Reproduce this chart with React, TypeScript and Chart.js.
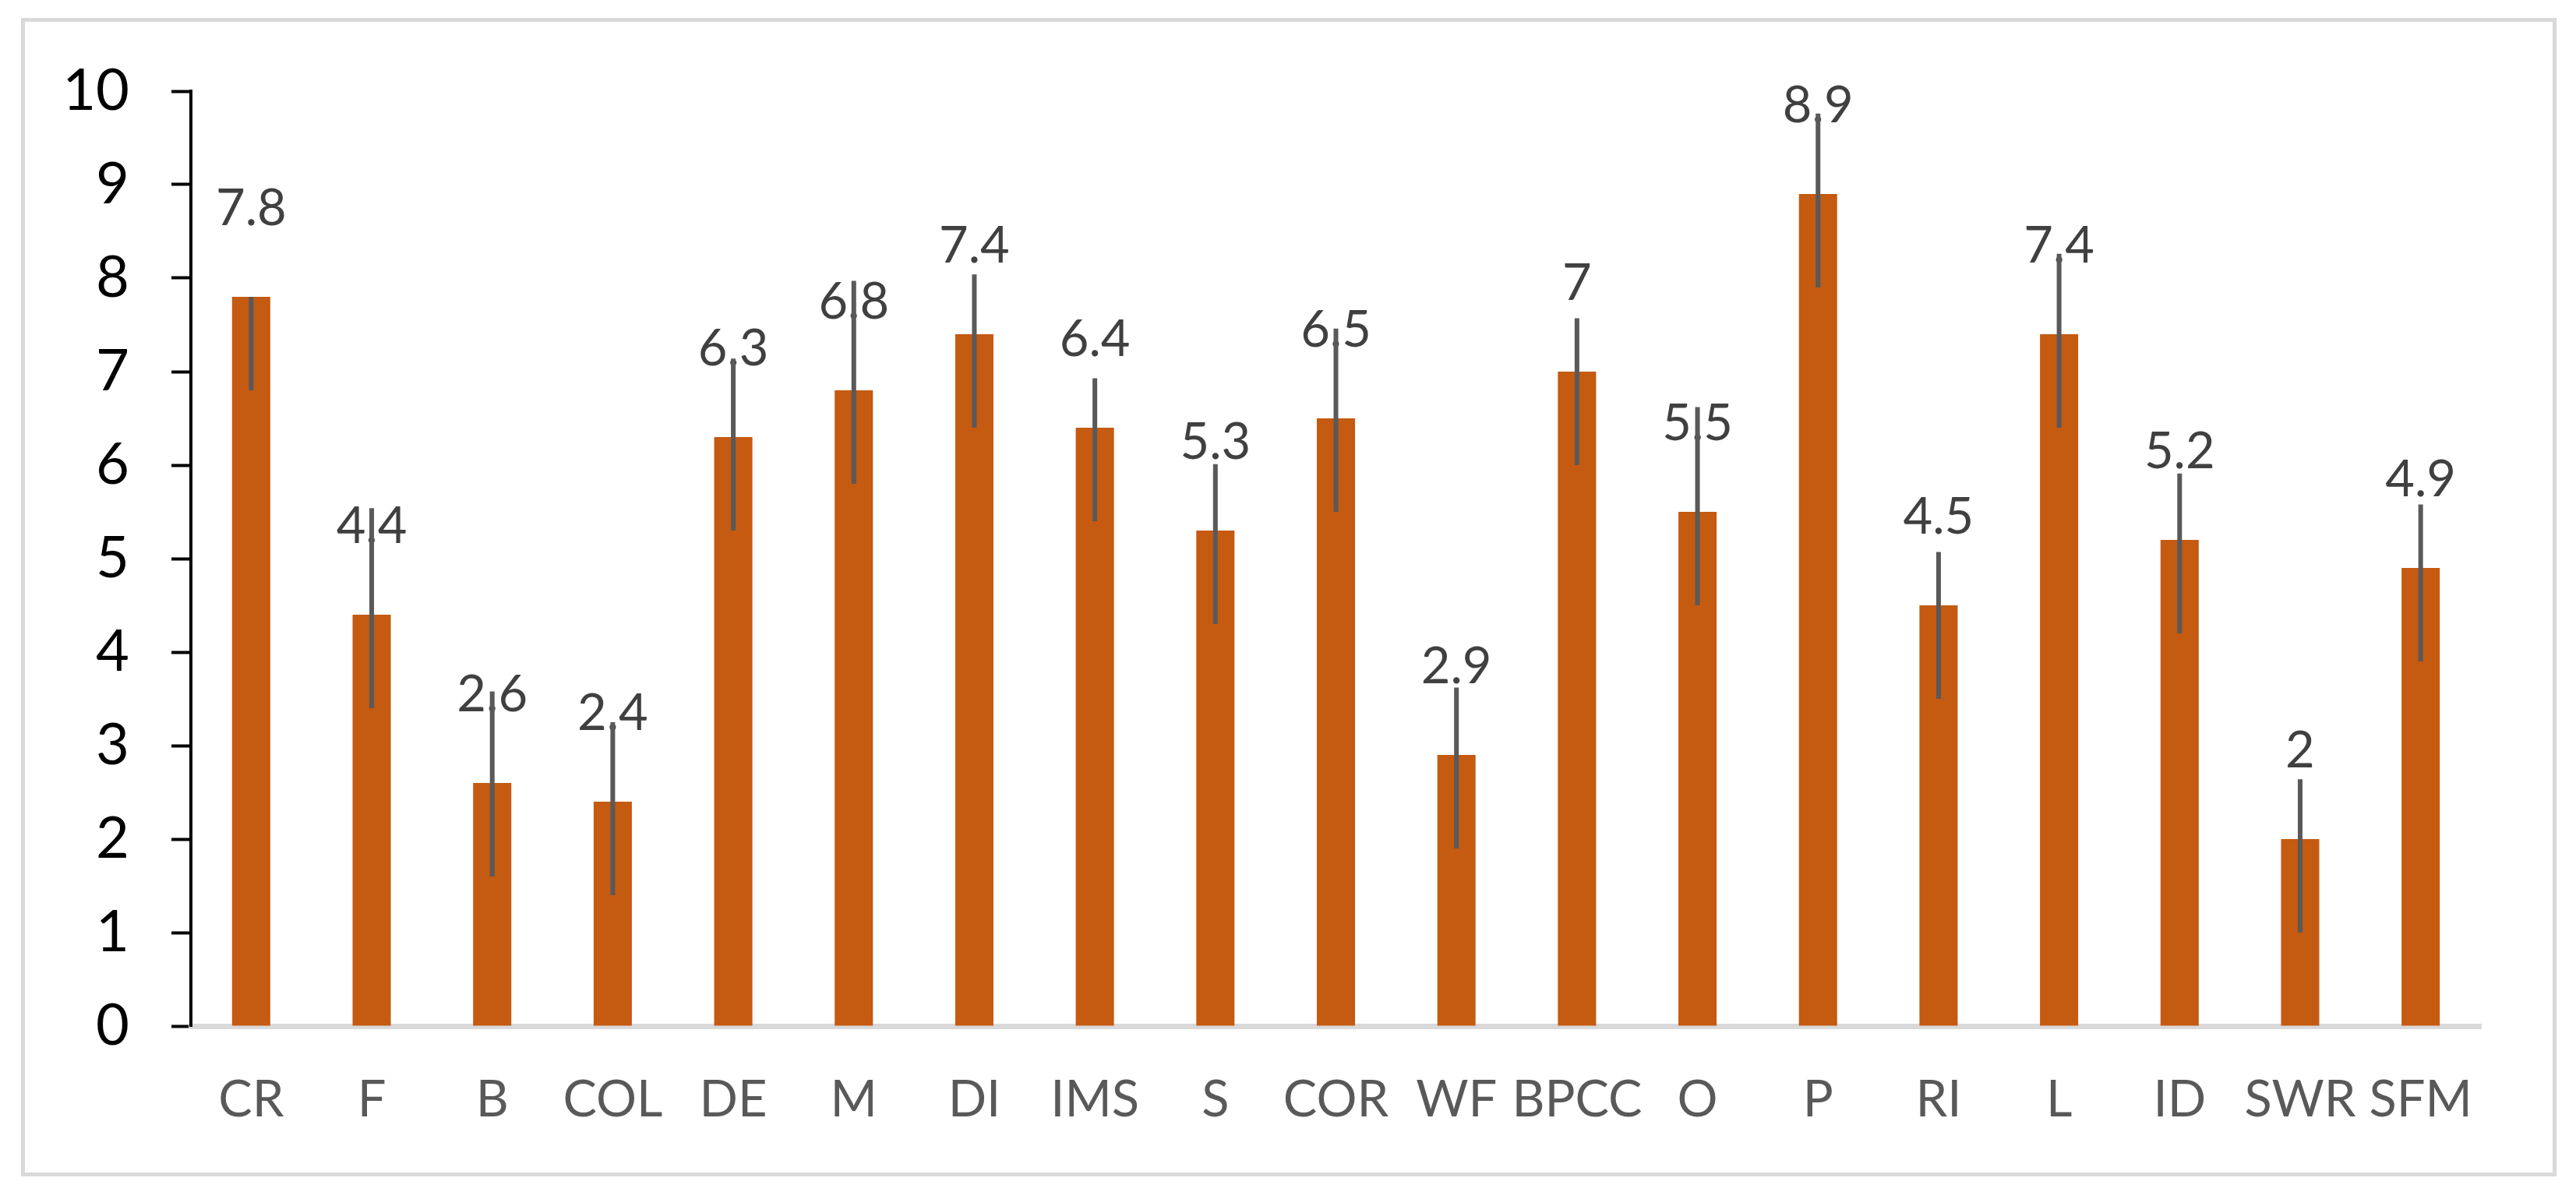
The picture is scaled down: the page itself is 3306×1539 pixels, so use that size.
import React, { useEffect, useRef } from 'react';
import { Chart, registerables } from 'chart.js';

Chart.register(...registerables);

const categories = ['CR', 'F', 'B', 'COL', 'DE', 'M', 'DI', 'IMS', 'S', 'COR', 'WF', 'BPCC', 'O', 'P', 'RI', 'L', 'ID', 'SWR', 'SFM'];
const values = [7.8, 4.4, 2.6, 2.4, 6.3, 6.8, 7.4, 6.4, 5.3, 6.5, 2.9, 7, 5.5, 8.9, 4.5, 7.4, 5.2, 2, 4.9];
const errorLow = [6.8, 3.4, 1.6, 1.4, 5.3, 5.8, 6.4, 5.4, 4.3, 5.5, 1.9, 6.0, 4.5, 7.9, 3.5, 6.4, 4.2, 1.0, 3.9];
const errorHigh = [7.8, 5.54, 3.58, 3.25, 7.14, 7.97, 8.04, 6.93, 6.01, 7.46, 3.62, 7.57, 6.62, 9.76, 5.07, 8.26, 5.91, 2.64, 5.58];
const yMin = 0;
const yMax = 10;
const yStep = 1;

const W = 3306;
const H = 1539;

const overlay = {
  id: 'overlay',
  beforeDraw(chart: any) {
    const ctx = chart.ctx;
    ctx.save();
    ctx.fillStyle = '#ffffff';
    ctx.fillRect(0, 0, chart.width, chart.height);
    ctx.strokeStyle = '#d9d9d9';
    ctx.lineWidth = 5;
    ctx.strokeRect(29.5, 25.5, 3249, 1482);
    ctx.restore();
  },
  afterDatasetsDraw(chart: any) {
    const ctx = chart.ctx;
    const meta = chart.getDatasetMeta(0);
    const ys = chart.scales.y;
    ctx.save();
    ctx.font = '65px Lato';
    ctx.fillStyle = '#404040';
    ctx.textAlign = 'center';
    ctx.textBaseline = 'alphabetic';
    meta.data.forEach((bar: any, i: number) => {
      ctx.fillText(String(values[i]), bar.x, bar.y - 92);
    });
    ctx.strokeStyle = '#595959';
    ctx.lineWidth = 6;
    ctx.lineCap = 'butt';
    meta.data.forEach((bar: any, i: number) => {
      ctx.beginPath();
      ctx.moveTo(bar.x, ys.getPixelForValue(errorHigh[i]));
      ctx.lineTo(bar.x, ys.getPixelForValue(errorLow[i]));
      ctx.stroke();
    });
    ctx.restore();
  },
};

export default function App() {
  const ref = useRef<HTMLCanvasElement | null>(null);
  useEffect(() => {
    if (!ref.current) return;
    const chart = new Chart(ref.current, {
      type: 'bar',
      data: {
        labels: categories,
        datasets: [
          {
            data: values,
            backgroundColor: '#C55A11',
            borderWidth: 0,
            categoryPercentage: 1,
            barPercentage: 0.317,
          },
        ],
      },
      options: {
        responsive: false,
        animation: false,
        devicePixelRatio: 1,
        layout: { padding: { left: 0, top: 117, right: 122, bottom: 0 } },
        plugins: { legend: { display: false }, tooltip: { enabled: false } },
        scales: {
          x: {
            grid: { display: false, drawTicks: false },
            border: { display: true, color: '#d9d9d9', width: 7 },
            ticks: {
              color: '#595959',
              font: { family: 'Lato', size: 65 },
              padding: 56,
              maxRotation: 0,
              autoSkip: false,
            },
            afterFit(scale: any) {
              scale.height = 222;
            },
          },
          y: {
            min: yMin,
            max: yMax,
            grid: {
              display: true,
              drawOnChartArea: false,
              drawTicks: true,
              tickLength: 25,
              tickWidth: 4,
              tickColor: '#000000',
            },
            border: { display: true, color: '#000000', width: 4 },
            ticks: {
              stepSize: yStep,
              color: '#000000',
              font: { family: 'Lato', size: 74 },
              padding: 54,
            },
            afterFit(scale: any) {
              scale.width = 245;
            },
          },
        },
      },
      plugins: [overlay],
    });
    return () => chart.destroy();
  }, []);
  return (
    <div style={{ position: 'fixed', left: 0, top: 0, width: W, height: H, background: '#fff' }}>
      <canvas ref={ref} width={W} height={H} style={{ width: W, height: H, display: 'block' }} />
    </div>
  );
}
